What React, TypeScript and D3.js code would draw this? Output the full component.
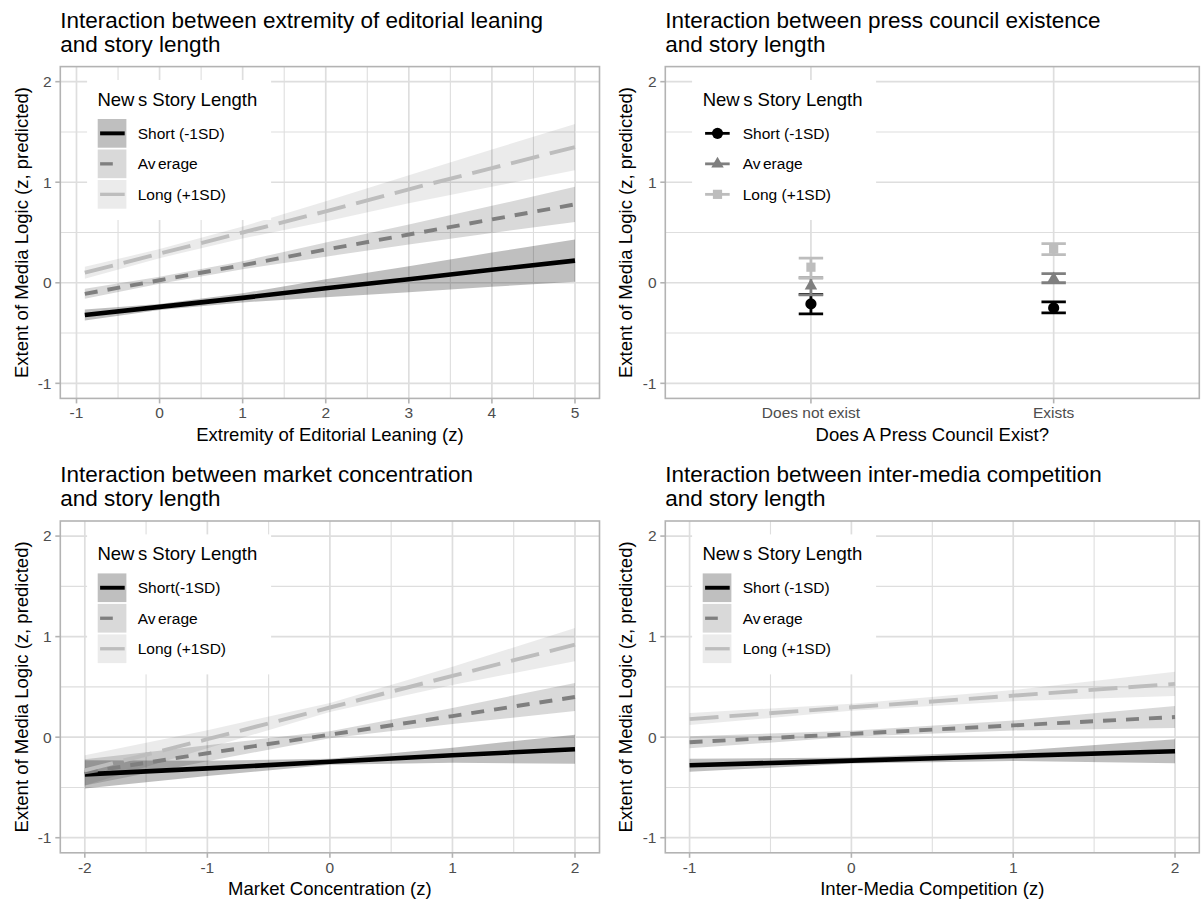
import React from "react";
import * as d3 from "d3";

const FONT = "'Liberation Sans', Arial, Helvetica, sans-serif";

// ---------- shared ----------
const legendTitle = "News Story Length";
const groupLabels = ["Short (-1SD)", "Average", "Long (+1SD)"];
const groupLabelsMarket = ["Short(-1SD)", "Average", "Long (+1SD)"];
const yLimits = [-1, 2];
const yTicks = [-1, 0, 1, 2];

// ---------- panel 1: extremity of editorial leaning ----------
const editorialTitle = ["Interaction between extremity of editorial leaning", "and story length"];
const editorialXTitle = "Extremity of Editorial Leaning (z)";
const editorialTicks = [-1, 0, 1, 2, 3, 4, 5];
const editorialX = [-0.9, 0, 1, 2, 3, 4, 5];
const editorialShortFit = [-0.32, -0.24, -0.15, -0.055, 0.035, 0.13, 0.22];
const editorialShortLow = [-0.375, -0.27, -0.195, -0.145, -0.095, -0.04, 0.01];
const editorialShortHigh = [-0.265, -0.21, -0.105, 0.035, 0.165, 0.3, 0.43];
const editorialAvgFit = [-0.11, 0.025, 0.175, 0.33, 0.48, 0.63, 0.78];
const editorialAvgLow = [-0.16, -0.01, 0.135, 0.26, 0.38, 0.495, 0.605];
const editorialAvgHigh = [-0.06, 0.06, 0.215, 0.4, 0.58, 0.765, 0.955];
const editorialLongFit = [0.1, 0.29, 0.5, 0.71, 0.93, 1.14, 1.35];
const editorialLongLow = [0.04, 0.245, 0.44, 0.61, 0.79, 0.955, 1.12];
const editorialLongHigh = [0.16, 0.335, 0.56, 0.81, 1.07, 1.325, 1.58];

// ---------- panel 2: press council ----------
const councilTitle = ["Interaction between press council existence", "and story length"];
const councilXTitle = "Does A Press Council Exist?";
const councilCategories = ["Does not exist", "Exists"];
const councilShortEst = [-0.21, -0.25];
const councilShortLow = [-0.31, -0.3];
const councilShortHigh = [-0.115, -0.19];
const councilAvgEst = [-0.03, 0.04];
const councilAvgLow = [-0.12, 0.0];
const councilAvgHigh = [0.05, 0.09];
const councilLongEst = [0.155, 0.335];
const councilLongLow = [0.05, 0.28];
const councilLongHigh = [0.245, 0.39];

// ---------- panel 3: market concentration ----------
const marketTitle = ["Interaction between market concentration", "and story length"];
const marketXTitle = "Market Concentration (z)";
const marketTicks = [-2, -1, 0, 1, 2];
const marketX = [-2, -1, 0, 1, 2];
const marketShortFit = [-0.37, -0.31, -0.245, -0.18, -0.12];
const marketShortLow = [-0.51, -0.385, -0.275, -0.255, -0.265];
const marketShortHigh = [-0.23, -0.235, -0.215, -0.105, 0.025];
const marketAvgFit = [-0.35, -0.16, 0.025, 0.21, 0.4];
const marketAvgLow = [-0.48, -0.24, -0.01, 0.13, 0.26];
const marketAvgHigh = [-0.22, -0.08, 0.06, 0.29, 0.54];
const marketLongFit = [-0.33, -0.02, 0.295, 0.61, 0.92];
const marketLongLow = [-0.48, -0.11, 0.25, 0.52, 0.755];
const marketLongHigh = [-0.18, 0.07, 0.34, 0.7, 1.085];

// ---------- panel 4: inter-media competition ----------
const competitionTitle = ["Interaction between inter-media competition", "and story length"];
const competitionXTitle = "Inter-Media Competition (z)";
const competitionTicks = [-1, 0, 1, 2];
const competitionX = [-1, 0, 1, 2];
const competitionShortFit = [-0.28, -0.233, -0.187, -0.14];
const competitionShortLow = [-0.345, -0.263, -0.237, -0.26];
const competitionShortHigh = [-0.215, -0.203, -0.137, -0.02];
const competitionAvgFit = [-0.05, 0.033, 0.117, 0.2];
const competitionAvgLow = [-0.11, 0.003, 0.067, 0.09];
const competitionAvgHigh = [0.01, 0.063, 0.167, 0.31];
const competitionLongFit = [0.18, 0.297, 0.413, 0.53];
const competitionLongLow = [0.12, 0.262, 0.358, 0.41];
const competitionLongHigh = [0.24, 0.332, 0.468, 0.65];

// ---------- styles ----------
const LINE_COLORS = ["#000000", "#7f7f7f", "#bdbdbd"];
const RIBBON_OPACITY = [0.25, 0.15, 0.08];
const DASHES = ["none", "13 10", "29 11"];
const LEGEND_DASHES = ["none", "12.7 40", "none"];
const LINE_WIDTHS = [4.6, 3.9, 3.9];
const GRID = "#dedede";
const BORDER = "#b3b3b3";
const TICK_TEXT = "#4d4d4d";

const TITLE_SIZE = 22.5;
const AXIS_TITLE_SIZE = 18.5;
const TICK_SIZE = 15.5;
const LEGEND_TITLE_SIZE = 18.5;
const LEGEND_TEXT_SIZE = 15.5;

type Geom = { left: number; right: number; top: number; bottom: number; yTitleX: number };
const GEOMS: Record<string, Geom> = {
  tl: { left: 60.3, right: 599.5, top: 66.6, bottom: 398.4, yTitleX: 28 },
  tr: { left: 665.3, right: 1199.3, top: 66.6, bottom: 398.4, yTitleX: 632 },
  bl: { left: 60.3, right: 599.5, top: 521, bottom: 852.8, yTitleX: 28 },
  br: { left: 665.3, right: 1199.3, top: 521, bottom: 852.8, yTitleX: 632 },
};

function expand(ext: [number, number], mult = 0.05): [number, number] {
  const r = ext[1] - ext[0];
  return [ext[0] - r * mult, ext[1] + r * mult];
}

function midpoints(t: number[]) {
  const out: number[] = [];
  for (let i = 0; i < t.length - 1; i++) out.push((t[i] + t[i + 1]) / 2);
  return out;
}

function LegendTitle({ x, y }: { x: number; y: number }) {
  return (
    <text x={x} y={y} fontSize={LEGEND_TITLE_SIZE} fill="#000">
      New<tspan dx={3.5}>s Story Length</tspan>
    </text>
  );
}

function LegendLabel({ x, y, label }: { x: number; y: number; label: string }) {
  if (label === "Average") {
    return (
      <text x={x} y={y} fontSize={LEGEND_TEXT_SIZE} fill="#000">
        Av<tspan dx={2.5}>erage</tspan>
      </text>
    );
  }
  return (
    <text x={x} y={y} fontSize={LEGEND_TEXT_SIZE} fill="#000">
      {label}
    </text>
  );
}

type FrameProps = {
  id: string;
  g: Geom;
  xScale: d3.ScaleLinear<number, number>;
  yScale: d3.ScaleLinear<number, number>;
  xTicks: number[];
  xTickLabels: string[];
  xMinor: number[];
  yMinor: number[];
  title: string[];
  xTitle: string;
  children: React.ReactNode;
  legend: React.ReactNode;
};

function Frame(p: FrameProps) {
  const { g, xScale, yScale } = p;
  const w = g.right - g.left;
  const h = g.bottom - g.top;
  return (
    <g>
      <defs>
        <clipPath id={`clip-${p.id}`}>
          <rect x={g.left} y={g.top} width={w} height={h} />
        </clipPath>
      </defs>
      <rect x={g.left} y={g.top} width={w} height={h} fill="#fff" />
      {p.xMinor.map((v) => (
        <line key={`xm${v}`} x1={xScale(v)} x2={xScale(v)} y1={g.top} y2={g.bottom} stroke={GRID} strokeWidth={1.1} />
      ))}
      {p.yMinor.map((v) => (
        <line key={`ym${v}`} x1={g.left} x2={g.right} y1={yScale(v)} y2={yScale(v)} stroke={GRID} strokeWidth={1.1} />
      ))}
      {p.xTicks.map((v) => (
        <line key={`xM${v}`} x1={xScale(v)} x2={xScale(v)} y1={g.top} y2={g.bottom} stroke={GRID} strokeWidth={1.7} />
      ))}
      {yTicks.map((v) => (
        <line key={`yM${v}`} x1={g.left} x2={g.right} y1={yScale(v)} y2={yScale(v)} stroke={GRID} strokeWidth={1.7} />
      ))}
      <g clipPath={`url(#clip-${p.id})`}>{p.children}</g>
      {p.legend}
      <rect x={g.left} y={g.top} width={w} height={h} fill="none" stroke={BORDER} strokeWidth={1.6} />
      {p.xTicks.map((v) => (
        <line key={`xt${v}`} x1={xScale(v)} x2={xScale(v)} y1={g.bottom} y2={g.bottom + 5} stroke={BORDER} strokeWidth={1.6} />
      ))}
      {yTicks.map((v) => (
        <line key={`yt${v}`} x1={g.left - 5} x2={g.left} y1={yScale(v)} y2={yScale(v)} stroke={BORDER} strokeWidth={1.6} />
      ))}
      {p.xTicks.map((v, i) => (
        <text key={`xl${v}`} x={xScale(v)} y={g.bottom + 19.8} fontSize={TICK_SIZE} fill={TICK_TEXT} textAnchor="middle">
          {p.xTickLabels[i]}
        </text>
      ))}
      {yTicks.map((v) => (
        <text key={`yl${v}`} x={g.left - 8.8} y={yScale(v) + 5.4} fontSize={TICK_SIZE} fill={TICK_TEXT} textAnchor="end">
          {String(v)}
        </text>
      ))}
      <text x={g.left} y={g.top - 38.8} fontSize={TITLE_SIZE} fill="#000">
        {p.title[0]}
      </text>
      <text x={g.left} y={g.top - 14.8} fontSize={TITLE_SIZE} fill="#000">
        {p.title[1]}
      </text>
      <text x={(g.left + g.right) / 2} y={g.bottom + 42.5} fontSize={AXIS_TITLE_SIZE} fill="#000" textAnchor="middle">
        {p.xTitle}
      </text>
      <text
        transform={`translate(${g.yTitleX},${(g.top + g.bottom) / 2}) rotate(-90)`}
        fontSize={AXIS_TITLE_SIZE}
        fill="#000"
        textAnchor="middle"
      >
        Extent of Media Logic (z, predicted)
      </text>
    </g>
  );
}

function yScaleFor(g: Geom) {
  return d3.scaleLinear().domain(expand([yLimits[0], yLimits[1]])).range([g.bottom, g.top]);
}

type Band = { fit: number[]; low: number[]; high: number[] };

function RibbonLegend({ g, labels }: { g: Geom; labels: string[] }) {
  const bx = g.left + 26.8;
  const by = g.top + 13.4;
  return (
    <g>
      <rect x={bx} y={by} width={184} height={140} fill="#fff" />
      <LegendTitle x={g.left + 37.1} y={g.top + 39.4} />
      {labels.map((lab, i) => {
        const ky = g.top + 52.4 + i * 30.5;
        const cy = ky + 14.35;
        return (
          <g key={lab}>
            <rect x={g.left + 37.4} y={ky} width={28.7} height={28.7} fill="#000" fillOpacity={RIBBON_OPACITY[i]} />
            <line
              x1={g.left + 39.8}
              x2={g.left + 64.4}
              y1={cy}
              y2={cy}
              stroke={LINE_COLORS[i]}
              strokeWidth={LINE_WIDTHS[i] * 0.85}
              strokeDasharray={LEGEND_DASHES[i]}
            />
            <LegendLabel x={g.left + 77.4} y={cy + 5.4} label={lab} />
          </g>
        );
      })}
    </g>
  );
}

function RibbonPanel({
  id,
  g,
  title,
  xTitle,
  xTicks,
  xs,
  bands,
  labels,
}: {
  id: string;
  g: Geom;
  title: string[];
  xTitle: string;
  xTicks: number[];
  xs: number[];
  bands: Band[];
  labels: string[];
}) {
  const ext = d3.extent(xs) as [number, number];
  const xScale = d3.scaleLinear().domain(expand(ext)).range([g.left, g.right]);
  const yScale = yScaleFor(g);
  return (
    <Frame
      id={id}
      g={g}
      xScale={xScale}
      yScale={yScale}
      xTicks={xTicks}
      xTickLabels={xTicks.map((t) => String(t))}
      xMinor={midpoints(xTicks)}
      yMinor={midpoints(yTicks)}
      title={title}
      xTitle={xTitle}
      legend={<RibbonLegend g={g} labels={labels} />}
    >
      {bands.map((b, k) => {
        const a = d3
          .area<number>()
          .x((_, i) => xScale(xs[i]))
          .y0((_, i) => yScale(b.low[i]))
          .y1((_, i) => yScale(b.high[i]));
        return <path key={`r${k}`} d={a(xs) || ""} fill="#000" fillOpacity={RIBBON_OPACITY[k]} />;
      })}
      {bands.map((b, k) => {
        const l = d3
          .line<number>()
          .x((_, i) => xScale(xs[i]))
          .y((d) => yScale(d));
        return (
          <path
            key={`l${k}`}
            d={l(b.fit) || ""}
            fill="none"
            stroke={LINE_COLORS[k]}
            strokeWidth={LINE_WIDTHS[k]}
            strokeDasharray={DASHES[k]}
          />
        );
      })}
    </Frame>
  );
}

function Marker({ kind, x, y, color }: { kind: number; x: number; y: number; color: string }) {
  if (kind === 0) return <circle cx={x} cy={y} r={5.6} fill={color} />;
  if (kind === 1) {
    const s = 12.5;
    const h = (s * Math.sqrt(3)) / 2;
    return (
      <path d={`M${x},${y - (2 * h) / 3}L${x - s / 2},${y + h / 3}L${x + s / 2},${y + h / 3}Z`} fill={color} />
    );
  }
  return <rect x={x - 4.6} y={y - 4.6} width={9.2} height={9.2} fill={color} />;
}

function PointPanel({ id, g }: { id: string; g: Geom }) {
  const xScale = d3
    .scaleLinear()
    .domain([1 - 0.6, councilCategories.length + 0.6])
    .range([g.left, g.right]);
  const yScale = yScaleFor(g);
  const pos = councilCategories.map((_, i) => i + 1);
  const series = [
    { est: councilShortEst, low: councilShortLow, high: councilShortHigh },
    { est: councilAvgEst, low: councilAvgLow, high: councilAvgHigh },
    { est: councilLongEst, low: councilLongLow, high: councilLongHigh },
  ];
  const cap = 12.2;
  const legend = (
    <g>
      <rect x={g.left + 26.8} y={g.top + 13.4} width={184} height={140} fill="#fff" />
      <LegendTitle x={g.left + 37.4} y={g.top + 39.4} />
      {groupLabels.map((lab, i) => {
        const cy = g.top + 52.4 + i * 30.5 + 14.35;
        const cx = g.left + 52.2;
        return (
          <g key={lab}>
            <line x1={g.left + 39.8} x2={g.left + 64.4} y1={cy} y2={cy} stroke={LINE_COLORS[i]} strokeWidth={2.8} />
            <Marker kind={i} x={cx} y={cy} color={LINE_COLORS[i]} />
            <LegendLabel x={g.left + 77.4} y={cy + 5.4} label={lab} />
          </g>
        );
      })}
    </g>
  );
  return (
    <Frame
      id={id}
      g={g}
      xScale={xScale}
      yScale={yScale}
      xTicks={pos}
      xTickLabels={councilCategories}
      xMinor={[]}
      yMinor={midpoints(yTicks)}
      title={councilTitle}
      xTitle={councilXTitle}
      legend={legend}
    >
      {series.map((s, k) =>
        pos.map((p, i) => {
          const x = xScale(p);
          const y1 = yScale(s.low[i]);
          const y2 = yScale(s.high[i]);
          return (
            <g key={`e${k}-${i}`} stroke={LINE_COLORS[k]} strokeWidth={2.8}>
              <line x1={x} x2={x} y1={y1} y2={y2} />
              <line x1={x - cap} x2={x + cap} y1={y1} y2={y1} />
              <line x1={x - cap} x2={x + cap} y1={y2} y2={y2} />
            </g>
          );
        })
      )}
      {series.map((s, k) =>
        pos.map((p, i) => (
          <Marker key={`m${k}-${i}`} kind={k} x={xScale(p)} y={yScale(s.est[i])} color={LINE_COLORS[k]} />
        ))
      )}
    </Frame>
  );
}

export default function App() {
  const editorialBands: Band[] = [
    { fit: editorialShortFit, low: editorialShortLow, high: editorialShortHigh },
    { fit: editorialAvgFit, low: editorialAvgLow, high: editorialAvgHigh },
    { fit: editorialLongFit, low: editorialLongLow, high: editorialLongHigh },
  ];
  const marketBands: Band[] = [
    { fit: marketShortFit, low: marketShortLow, high: marketShortHigh },
    { fit: marketAvgFit, low: marketAvgLow, high: marketAvgHigh },
    { fit: marketLongFit, low: marketLongLow, high: marketLongHigh },
  ];
  const competitionBands: Band[] = [
    { fit: competitionShortFit, low: competitionShortLow, high: competitionShortHigh },
    { fit: competitionAvgFit, low: competitionAvgLow, high: competitionAvgHigh },
    { fit: competitionLongFit, low: competitionLongLow, high: competitionLongHigh },
  ];
  return (
    <svg
      width={1202}
      height={901}
      style={{ position: "absolute", left: 0, top: 0, background: "#fff" }}
      fontFamily={FONT}
    >
      <rect width={1202} height={901} fill="#fff" />
      <RibbonPanel
        id="p1"
        g={GEOMS.tl}
        title={editorialTitle}
        xTitle={editorialXTitle}
        xTicks={editorialTicks}
        xs={editorialX}
        bands={editorialBands}
        labels={groupLabels}
      />
      <PointPanel id="p2" g={GEOMS.tr} />
      <RibbonPanel
        id="p3"
        g={GEOMS.bl}
        title={marketTitle}
        xTitle={marketXTitle}
        xTicks={marketTicks}
        xs={marketX}
        bands={marketBands}
        labels={groupLabelsMarket}
      />
      <RibbonPanel
        id="p4"
        g={GEOMS.br}
        title={competitionTitle}
        xTitle={competitionXTitle}
        xTicks={competitionTicks}
        xs={competitionX}
        bands={competitionBands}
        labels={groupLabels}
      />
    </svg>
  );
}
